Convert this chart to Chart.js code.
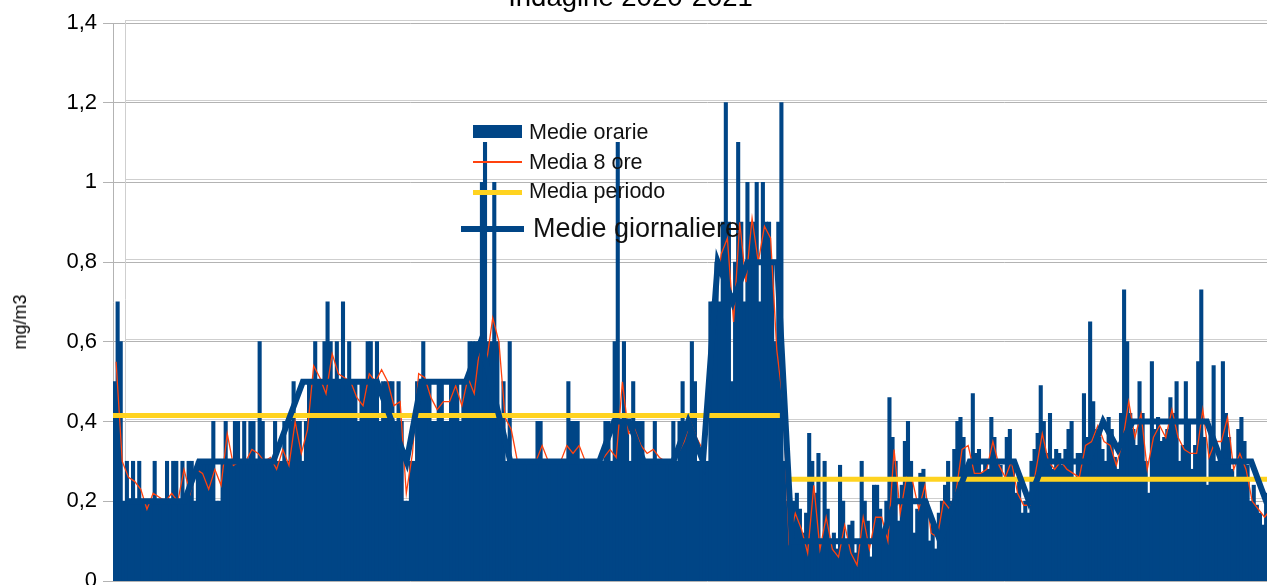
<!DOCTYPE html>
<html><head><meta charset="utf-8">
<script src="https://cdn.jsdelivr.net/npm/chart.js@4.4.0/dist/chart.umd.min.js"></script>
<style>
html,body{margin:0;padding:0;overflow:hidden;background:#fff;width:1267px;height:585px;position:relative}
#wrap{position:absolute;left:-40px;top:-30px;width:1341px;height:640px}
.sw{position:absolute}
.lt{position:absolute;white-space:nowrap;line-height:1;font-family:"Liberation Sans",Arial,sans-serif;color:#111}
#ytitle{position:absolute;left:20px;top:322px;transform:translate(-50%,-50%) rotate(-90deg);white-space:nowrap;line-height:1;font-family:"Liberation Sans",Arial,sans-serif;font-size:18px;color:#000}
</style></head><body>
<div id="wrap"><canvas id="c" width="1341" height="640"></canvas></div>
<div id="ytitle"></div>
<div class="sw" style="left:473px;top:125px;width:49px;height:13px;background:#004586"></div>
<div class="lt" style="left:529px;top:122px;font-size:21.5px">Medie orarie</div>
<div class="sw" style="left:473px;top:161px;width:49px;height:2px;background:#ff420e"></div>
<div class="lt" style="left:529px;top:152px;font-size:21.5px">Media 8 ore</div>
<div class="sw" style="left:473px;top:190px;width:49px;height:5px;background:#ffd320"></div>
<div class="lt" style="left:529px;top:181px;font-size:21.5px">Media periodo</div>
<div class="sw" style="left:461px;top:226px;width:63px;height:6px;background:#004586"></div>
<div class="lt" style="left:533px;top:215px;font-size:27px">Medie giornaliere</div>
<script>
// ---- data ----
const chartTitle = 'Indagine 2020-2021';
const yAxisTitle = 'mg/m3';
const slotHours = 5;        // each hourly bar sample covers 5 h of the campaign
const eightHourStep = 10;   // 8-hour mean sampled every 10 h
const hoursPerDay = 24;
const dailyOffsetHours = 19.5;
const axisMaxHours = 1924;

// hourly means, campaign 2020 (mg/m3)
const hourly2020 = [
0.5,0.7,0.6,0.2,0.3,0.2,0.3,0.2,0.3,0.2,
0.2,0.2,0.2,0.3,0.2,0.2,0.2,0.3,0.2,0.3,
0.3,0.2,0.3,0.2,0.3,0.3,0.2,0.3,0.3,0.3,
0.3,0.3,0.4,0.2,0.2,0.3,0.4,0.3,0.3,0.4,
0.4,0.3,0.4,0.3,0.4,0.4,0.3,0.6,0.4,0.3,
0.3,0.3,0.4,0.3,0.3,0.4,0.3,0.4,0.5,0.4,
0.4,0.3,0.4,0.5,0.5,0.6,0.5,0.5,0.6,0.7,
0.6,0.5,0.6,0.5,0.7,0.5,0.6,0.5,0.5,0.4,
0.5,0.5,0.6,0.6,0.5,0.6,0.4,0.5,0.5,0.5,
0.5,0.4,0.5,0.4,0.2,0.2,0.3,0.3,0.5,0.5,
0.6,0.5,0.5,0.4,0.4,0.5,0.5,0.4,0.4,0.5,
0.5,0.5,0.4,0.5,0.5,0.6,0.6,0.6,0.6,1.0,
1.1,0.6,0.6,1.0,0.6,0.4,0.5,0.3,0.6,0.3,
0.3,0.3,0.3,0.3,0.3,0.3,0.3,0.4,0.4,0.3,
0.3,0.3,0.3,0.3,0.3,0.3,0.3,0.5,0.4,0.4,
0.4,0.3,0.3,0.3,0.3,0.3,0.3,0.3,0.3,0.4,
0.4,0.3,0.6,1.1,0.4,0.6,0.4,0.3,0.5,0.4,
0.4,0.4,0.3,0.3,0.3,0.4,0.3,0.3,0.3,0.3,
0.3,0.4,0.3,0.4,0.5,0.4,0.4,0.6,0.5,0.3,
0.3,0.3,0.3,0.7,0.7,0.8,0.7,0.9,1.2,0.9,
0.5,0.8,1.1,0.9,0.7,1.0,0.9,0.9,1.0,0.7,
1.0,0.9,0.9,0.8,0.6,0.9
];
// hourly means, campaign 2021 (mg/m3)
const hourly2021 = [
1.2,0.3,0.2,0.1,
0.2,0.22,0.18,0.12,0.17,0.37,0.3,0.22,0.32,0.1,
0.3,0.18,0.1,0.12,0.08,0.29,0.2,0.1,0.14,0.15,
0.07,0.1,0.3,0.2,0.15,0.06,0.24,0.24,0.18,0.12,
0.2,0.46,0.36,0.3,0.15,0.24,0.35,0.4,0.3,0.12,
0.18,0.27,0.28,0.2,0.1,0.14,0.08,0.17,0.2,0.24,
0.3,0.2,0.33,0.4,0.41,0.36,0.29,0.3,0.47,0.32,
0.33,0.27,0.3,0.28,0.41,0.36,0.3,0.29,0.25,0.36,
0.38,0.3,0.22,0.25,0.17,0.2,0.17,0.3,0.33,0.37,
0.49,0.4,0.32,0.42,0.28,0.33,0.32,0.29,0.33,0.38,
0.4,0.26,0.32,0.32,0.47,0.36,0.65,0.45,0.38,0.36,
0.33,0.3,0.41,0.38,0.31,0.28,0.42,0.73,0.6,0.42,
0.38,0.34,0.5,0.42,0.3,0.22,0.55,0.38,0.41,0.35,
0.36,0.38,0.46,0.42,0.5,0.3,0.34,0.5,0.4,0.28,
0.34,0.55,0.73,0.36,0.24,0.38,0.54,0.3,0.32,0.55,
0.42,0.36,0.28,0.26,0.38,0.41,0.35,0.29,0.2,0.24,
0.19,0.17,0.14,0.22,0.18,0.2,0.2,0.2
];
// 8-hour running mean (mg/m3)
const media8ore = [
0.55,0.3,0.26,0.25,0.23,0.18,0.22,0.21,0.2,0.22,
0.2,0.28,0.22,0.28,0.27,0.23,0.28,0.24,0.37,0.29,
0.3,0.3,0.33,0.32,0.3,0.31,0.28,0.33,0.29,0.4,
0.32,0.38,0.54,0.51,0.47,0.57,0.52,0.51,0.5,0.46,
0.44,0.52,0.5,0.53,0.5,0.44,0.45,0.22,0.32,0.52,
0.51,0.46,0.43,0.45,0.45,0.49,0.44,0.51,0.47,0.6,
0.55,0.66,0.6,0.41,0.38,0.3,0.3,0.3,0.3,0.34,
0.3,0.3,0.3,0.34,0.32,0.34,0.3,0.3,0.3,0.31,
0.33,0.31,0.5,0.37,0.38,0.34,0.32,0.33,0.31,0.3,
0.3,0.32,0.35,0.4,0.36,0.33,0.45,0.7,0.82,0.86,
0.65,0.9,0.75,0.91,0.8,0.89,0.86,0.58,0.45,0.1,
0.17,0.13,0.07,0.24,0.08,0.16,0.08,0.06,0.14,0.07,
0.04,0.16,0.08,0.16,0.16,0.1,0.33,0.17,0.26,0.25,
0.18,0.24,0.12,0.11,0.2,0.18,0.22,0.33,0.34,0.27,
0.27,0.28,0.35,0.29,0.26,0.3,0.22,0.19,0.19,0.28,
0.37,0.3,0.28,0.3,0.28,0.27,0.26,0.34,0.35,0.39,
0.35,0.34,0.29,0.35,0.45,0.36,0.42,0.28,0.36,0.39,
0.36,0.43,0.36,0.33,0.32,0.32,0.43,0.31,0.35,0.35,
0.41,0.28,0.32,0.28,0.2,0.18,0.16,0.18,0.18
];
// daily means (mg/m3)
const medieGiornaliere = [
0.2,0.2,0.2,0.2,0.2,0.3,0.3,0.3,0.3,0.3,0.3,0.4,0.5,0.5,0.5,0.5,0.5,0.5,0.4,0.3,
0.5,0.5,0.5,0.5,0.6,0.45,0.3,0.3,0.3,0.3,0.3,0.3,0.3,0.4,0.4,0.3,0.3,0.3,0.4,0.3,
0.8,0.7,0.8,0.8,0.8,
0.1,0.1,0.1,0.1,0.1,0.1,0.1,0.2,0.2,0.2,0.1,0.2,0.3,0.3,0.3,0.3,0.2,0.3,0.3,0.3,
0.3,0.4,0.33,0.4,0.4,0.4,0.4,0.4,0.4,0.3,0.3,0.3,0.2,0.2
];
// period means and the hour ranges they cover
const mediaPeriodo = [0.415, 0.255];
const periodoInizio = [0, 1090];
const periodoFine = [1080, 1924];

document.getElementById('ytitle').textContent = yAxisTitle;

// ---- build library data ----
const hourly = hourly2020.concat(hourly2021).map((v, i) => ({x: slotHours * i + slotHours / 2, y: v}));
const eight = media8ore.map((v, i) => ({x: eightHourStep * i + eightHourStep / 2, y: v}));
const daily = medieGiornaliere.map((v, k) => ({x: hoursPerDay * k + dailyOffsetHours, y: v}));
const periodo = [];
mediaPeriodo.forEach((v, i) => {
  if (i > 0) periodo.push({x: (periodoFine[i - 1] + periodoInizio[i]) / 2, y: null});
  periodo.push({x: periodoInizio[i], y: v});
  periodo.push({x: periodoFine[i], y: v});
});

const FONT = '"Liberation Sans", Arial, sans-serif';

const wallPlugin = {
  id: 'wall',
  beforeDatasetsDraw(chart) {
    const {ctx, chartArea: a, scales: {x, y}} = chart;
    const wx = x.getPixelForValue(daily[0].x);
    ctx.save();
    ctx.strokeStyle = '#cfcfcf';
    ctx.lineWidth = 1;
    y.ticks.forEach(t => {
      const py = Math.round(y.getPixelForValue(t.value)) - 2.5;
      ctx.beginPath(); ctx.moveTo(wx, py); ctx.lineTo(a.right, py); ctx.stroke();
    });
    ctx.beginPath();
    ctx.moveTo(Math.round(wx) + 0.5, a.top - 3); ctx.lineTo(Math.round(wx) + 0.5, a.bottom - 2); ctx.stroke();
    ctx.restore();
  }
};

new Chart(document.getElementById('c'), {
  type: 'bar',
  plugins: [wallPlugin],
  data: {
    datasets: [
      {type: 'line', label: 'Medie giornaliere', data: daily, borderColor: '#004586', borderWidth: 6, pointRadius: 0, order: 0},
      {type: 'line', label: 'Media periodo', data: periodo, borderColor: '#ffd320', borderWidth: 5, pointRadius: 0, spanGaps: false, order: 1},
      {type: 'line', label: 'Media 8 ore', data: eight, borderColor: '#ff420e', borderWidth: 1.3, pointRadius: 0, order: 2},
      {type: 'bar', label: 'Medie orarie', data: hourly, backgroundColor: '#004586', borderWidth: 0, barPercentage: 1, categoryPercentage: 1, inflateAmount: 0.5, order: 3}
    ]
  },
  options: {
    responsive: false, animation: false, devicePixelRatio: 1,
    layout: {padding: {left: 0, right: 0, top: 0, bottom: 29}},
    plugins: {
      legend: {display: false},
      tooltip: {enabled: false},
      title: {display: true, text: chartTitle, color: '#000',
        font: {family: FONT, size: 27.5, weight: 'normal'}, padding: {top: 12, bottom: 8}}
    },
    scales: {
      x: {
        type: 'linear', min: 0, max: axisMaxHours, offset: false,
        ticks: {display: false},
        grid: {display: false},
        border: {display: false},
        afterFit(s) { s.height = 0; }
      },
      y: {
        min: 0, max: 1.4,
        ticks: {stepSize: 0.2, color: '#000', padding: 6, font: {family: FONT, size: 22},
          callback: v => String(Math.round(v * 10) / 10).replace('.', ',')},
        grid: {color: '#b3b3b3', lineWidth: 1, tickLength: 10},
        border: {display: true, color: '#b3b3b3'},
        afterFit(s) { s.width = 153; }
      }
    }
  }
});
</script>
</body></html>
